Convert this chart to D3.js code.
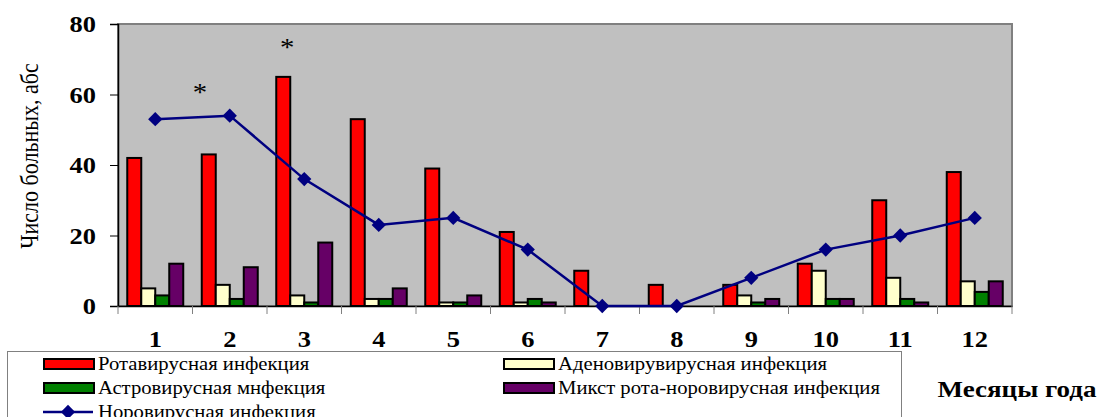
<!DOCTYPE html>
<html>
<head>
<meta charset="utf-8">
<script src="https://cdn.jsdelivr.net/npm/d3@7"></script>
<style>
  body { margin: 0; background: #fff; }
</style>
</head>
<body>
<div id="chart"></div>
<script>
var months = ["1", "2", "3", "4", "5", "6", "7", "8", "9", "10", "11", "12"];
var rota = [42, 43, 65, 53, 39, 21, 10, 6, 6, 12, 30, 38];
var adeno = [5, 6, 3, 2, 1, 1, 0, 0, 3, 10, 8, 7];
var astro = [3, 2, 1, 2, 1, 2, 0, 0, 1, 2, 2, 4];
var mixed = [12, 11, 18, 5, 3, 1, 0, 0, 2, 2, 1, 7];
var noro = [53, 54, 36, 23, 25, 16, 0, 0, 8, 16, 20, 25];
var yTicks = [0, 20, 40, 60, 80];
// significance marks: month position (fractional) and height
var starPos = [1.6, 2.77];
var starVal = [62, 75];

var barSeries = [
    { name: "Ротавирусная инфекция", values: rota, color: "#FF0000" },
    { name: "Аденовирувирусная инфекция", values: adeno, color: "#FFFFCC" },
    { name: "Астровирусная мнфекция", values: astro, color: "#008000" },
    { name: "Микст рота-норовирусная инфекция", values: mixed, color: "#660066" }
];
var lineColor = "#000080";
var fontSerif = "Liberation Serif";
var stretch = 1.15; // the original text is drawn a bit wide

var width = 1101;
var height = 417;
var plot = { left: 118, right: 1012, top: 24, bottom: 306 };

var svg = d3.select("#chart").append("svg")
    .attr("width", width)
    .attr("height", height)
    .attr("font-family", fontSerif);

var x = d3.scaleBand()
    .domain(months)
    .range([plot.left, plot.right])
    .paddingInner(0)
    .paddingOuter(0);

var xs = d3.scaleBand()
    .domain(d3.range(barSeries.length))
    .range([9.25, x.bandwidth() - 9.25]);

var y = d3.scaleLinear()
    .domain([0, 80])
    .range([plot.bottom, plot.top]);

// month position scale for annotations (month m centre = m)
var xm = d3.scaleLinear()
    .domain([0.5, 12.5])
    .range([plot.left, plot.right]);

// plot background
svg.append("rect")
    .attr("x", plot.left)
    .attr("y", plot.top)
    .attr("width", plot.right - plot.left)
    .attr("height", plot.bottom - plot.top)
    .attr("fill", "#C0C0C0")
    .attr("stroke", "#808080")
    .attr("stroke-width", 2);

// bars
var groups = svg.selectAll(".month")
    .data(months)
    .enter().append("g")
    .attr("class", "month")
    .attr("transform", function (m) { return "translate(" + x(m) + ",0)"; });

groups.selectAll("rect")
    .data(function (m, i) {
        return barSeries.map(function (s, si) { return { si: si, v: s.values[i], color: s.color }; });
    })
    .enter().filter(function (d) { return d.v > 0; })
    .append("rect")
    .attr("x", function (d) { return xs(d.si); })
    .attr("y", function (d) { return y(d.v); })
    .attr("width", xs.bandwidth())
    .attr("height", function (d) { return y(0) - y(d.v); })
    .attr("fill", function (d) { return d.color; })
    .attr("stroke", "#000")
    .attr("stroke-width", 2);

// y axis
var yAxis = svg.append("g")
    .attr("transform", "translate(" + plot.left + ",0)")
    .call(d3.axisLeft(y).tickValues(yTicks).tickSize(8));
yAxis.attr("font-family", fontSerif);
yAxis.select(".domain").attr("stroke", "#000").attr("stroke-width", 1.5);
yAxis.selectAll(".tick line").attr("stroke", "#000");
yAxis.selectAll("text")
    .attr("x", 0)
    .attr("dy", "0.34em")
    .attr("transform", "translate(-22,0) scale(" + stretch + ",1)")
    .attr("font-size", 23)
    .attr("font-weight", "bold")
    .attr("fill", "#000");

// x axis
var xAxis = svg.append("g")
    .attr("transform", "translate(0," + plot.bottom + ")")
    .call(d3.axisBottom(x).tickSize(0));
xAxis.attr("font-family", fontSerif);
xAxis.select(".domain").attr("stroke", "#000").attr("stroke-width", 1.5);
xAxis.selectAll("text")
    .attr("y", 0)
    .attr("dy", null)
    .attr("transform", "translate(0,41) scale(" + stretch + ",1)")
    .attr("font-size", 23)
    .attr("font-weight", "bold")
    .attr("fill", "#000");
xAxis.selectAll(".sep")
    .data(d3.range(months.length + 1))
    .enter().append("line")
    .attr("class", "sep")
    .attr("x1", function (i) { return plot.left + i * x.step(); })
    .attr("x2", function (i) { return plot.left + i * x.step(); })
    .attr("y1", 0)
    .attr("y2", 8)
    .attr("stroke", "#808080")
    .attr("stroke-width", 1);

// noro line
var line = d3.line()
    .x(function (d, i) { return x(months[i]) + x.bandwidth() / 2; })
    .y(function (d) { return y(d); });

svg.append("path")
    .datum(noro)
    .attr("d", line)
    .attr("fill", "none")
    .attr("stroke", lineColor)
    .attr("stroke-width", 2.5);

var diamond = d3.symbol().type(d3.symbolDiamond2).size(130);
svg.selectAll(".pt")
    .data(noro)
    .enter().append("path")
    .attr("class", "pt")
    .attr("d", diamond)
    .attr("transform", function (d, i) {
        return "translate(" + (x(months[i]) + x.bandwidth() / 2) + "," + y(d) + ")";
    })
    .attr("fill", lineColor);

// asterisks
svg.selectAll(".star")
    .data(starPos)
    .enter().append("text")
    .attr("class", "star")
    .attr("transform", function (d, i) {
        return "translate(" + xm(d) + "," + (y(starVal[i]) + 14) + ") scale(" + stretch + ",1)";
    })
    .attr("text-anchor", "middle")
    .attr("font-size", 25)
    .attr("fill", "#000")
    .text("*");

// y title
svg.append("text")
    .attr("transform", "translate(38,156) rotate(-90) scale(1," + stretch + ")")
    .attr("text-anchor", "middle")
    .attr("font-size", 22)
    .attr("fill", "#000")
    .text("Число больных, абс");

// x title
svg.append("text")
    .attr("transform", "translate(1017,397) scale(" + stretch + ",1)")
    .attr("text-anchor", "middle")
    .attr("font-size", 23.5)
    .attr("font-weight", "bold")
    .attr("fill", "#000")
    .text("Месяцы года");

// legend
var legend = svg.append("g");
legend.append("rect")
    .attr("x", 7.5)
    .attr("y", 351.5)
    .attr("width", 894)
    .attr("height", 80)
    .attr("fill", "#fff")
    .attr("stroke", "#808080")
    .attr("stroke-width", 1);

var legendItems = barSeries.map(function (s, i) {
    return { name: s.name, color: s.color, type: "bar", col: i % 2, row: Math.floor(i / 2) };
});
legendItems.push({ name: "Норовирусная инфекция", color: lineColor, type: "line", col: 0, row: 2 });

var colX = [43, 503];
var rowY = [364, 388, 412];

var li = legend.selectAll(".li")
    .data(legendItems)
    .enter().append("g")
    .attr("class", "li")
    .attr("transform", function (d) { return "translate(" + colX[d.col] + "," + rowY[d.row] + ")"; });

li.filter(function (d) { return d.type === "bar"; })
    .append("rect")
    .attr("x", 1)
    .attr("y", -5)
    .attr("width", 50)
    .attr("height", 10)
    .attr("fill", function (d) { return d.color; })
    .attr("stroke", "#000")
    .attr("stroke-width", 2);

li.filter(function (d) { return d.type === "line"; })
    .append("line")
    .attr("x1", 0)
    .attr("x2", 50)
    .attr("y1", 0)
    .attr("y2", 0)
    .attr("stroke", lineColor)
    .attr("stroke-width", 2.5);

li.filter(function (d) { return d.type === "line"; })
    .append("path")
    .attr("d", diamond)
    .attr("transform", "translate(25,0)")
    .attr("fill", lineColor);

li.append("text")
    .attr("transform", "translate(55,6) scale(" + stretch + ",1)")
    .attr("font-size", 18)
    .attr("fill", "#000")
    .text(function (d) { return d.name; });
</script>
</body>
</html>
